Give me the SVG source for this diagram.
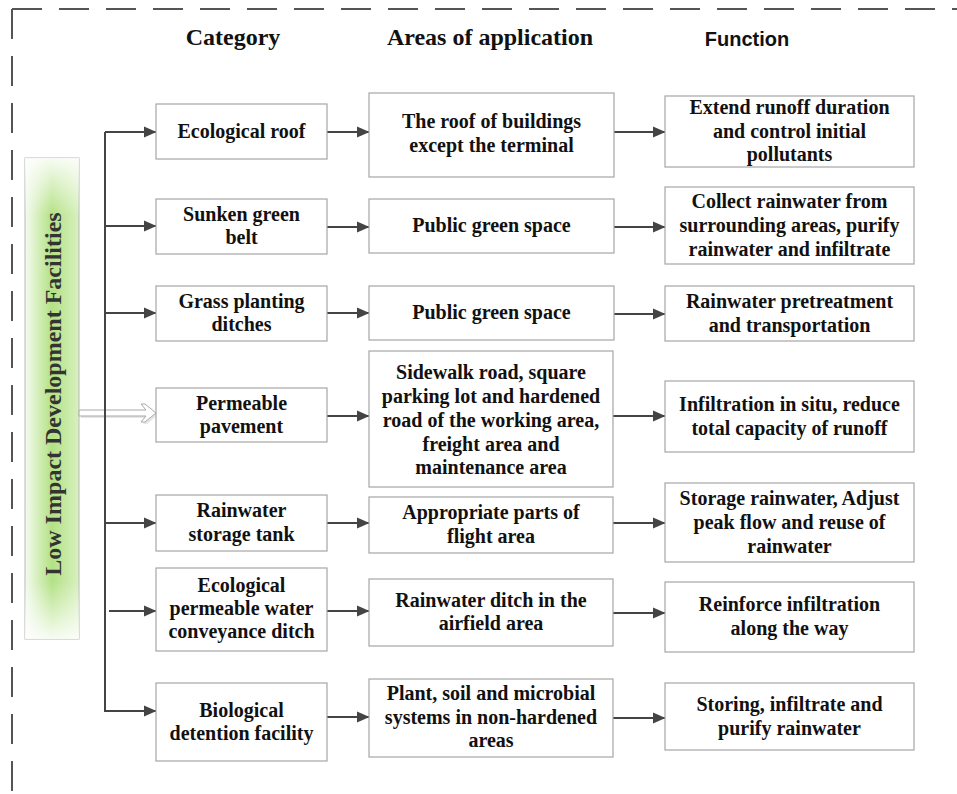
<svg xmlns="http://www.w3.org/2000/svg" width="957" height="794" viewBox="0 0 957 794">
<defs>
<style>
.box{fill:#fff;stroke:#a6a6a6;stroke-width:1.2}
.t{font-family:"Liberation Serif","Times New Roman",serif;font-weight:bold;font-size:20px;fill:#111;text-anchor:middle}
.h{font-family:"Liberation Serif","Times New Roman",serif;font-weight:bold;font-size:24px;fill:#111;text-anchor:middle}
.hs{font-family:"Liberation Sans",Arial,sans-serif;font-weight:bold;font-size:20px;fill:#111;text-anchor:middle}
.c{stroke:#444;stroke-width:2;fill:none}
.a{stroke:#444;stroke-width:2;fill:none;marker-end:url(#ah)}
.dash{stroke:#555;stroke-width:2;stroke-dasharray:30 17;fill:none}
</style>
<marker id="ah" markerUnits="userSpaceOnUse" markerWidth="13" markerHeight="12" refX="12" refY="6" orient="auto">
<path d="M0,0.5 L12.5,6 L0,11.5 z" fill="#444"/>
</marker>
<radialGradient id="g" cx="0.5" cy="0.5" r="0.5" gradientTransform="translate(0.5,0.5) scale(1,1) translate(-0.5,-0.5)">
<stop offset="0" stop-color="#a7dd6f"/>
<stop offset="0.55" stop-color="#c9eba6"/>
<stop offset="1" stop-color="#f3fbec"/>
</radialGradient>
<linearGradient id="gh" x1="0" y1="0" x2="1" y2="0">
<stop offset="0" stop-color="#f4fbef"/>
<stop offset="0.5" stop-color="#b3e184"/>
<stop offset="1" stop-color="#d8f0c0"/>
</linearGradient>
<linearGradient id="gv" x1="0" y1="0" x2="0" y2="1">
<stop offset="0" stop-color="#fff" stop-opacity="0.9"/>
<stop offset="0.12" stop-color="#fff" stop-opacity="0"/>
<stop offset="0.88" stop-color="#fff" stop-opacity="0"/>
<stop offset="1" stop-color="#fff" stop-opacity="0.9"/>
</linearGradient>
</defs>
<rect width="957" height="794" fill="#fff"/>
<g id="border">
<path class="dash" d="M12,9 L957,9"/>
<path class="dash" d="M12,9 L12,794"/>
</g>
<g id="headers">
<text class="h" x="233" y="45">Category</text>
<text class="h" x="490" y="45">Areas of application</text>
<text class="hs" x="747" y="46">Function</text>
</g>
<g id="lid">
<rect x="25" y="158" width="54" height="481" fill="url(#gh)" stroke="#b8b8b8" stroke-width="1"/>
<rect x="25" y="158" width="54" height="481" fill="url(#gv)"/>
<text class="h" x="0" y="0" transform="translate(61,394) rotate(-90)" style="fill:#333">Low Impact Development Facilities</text>
</g>
<g id="connectors">
<polygon points="81,412 148,412 143,406 147,406 158,415 147,424 143,424 148,418 81,418" fill="#e6e6e6" stroke="none"/>
<polygon points="79,410 146,410 141,404 145,404 156,413 145,422 141,422 146,416 79,416" fill="#fff" stroke="#a8a8a8" stroke-width="1"/>
<path class="c" d="M105,132 L105,711"/>
<path class="a" d="M105,132 L156,132"/>
<path class="a" d="M105,226 L156,226"/>
<path class="a" d="M105,313 L156,313"/>
<path class="a" d="M105,523 L156,523"/>
<path class="a" d="M109,611 L156,611"/>
<path class="a" d="M104,711 L156,711"/>
<path class="a" d="M327,132 L369,132"/>
<path class="a" d="M327,227 L369,227"/>
<path class="a" d="M327,313 L369,313"/>
<path class="a" d="M327,416 L369,416"/>
<path class="a" d="M327,523 L369,523"/>
<path class="a" d="M327,611 L369,611"/>
<path class="a" d="M327,717 L369,717"/>
<path class="a" d="M613,132 L665,132"/>
<path class="a" d="M613,227 L665,227"/>
<path class="a" d="M613,314 L665,314"/>
<path class="a" d="M613,416 L665,416"/>
<path class="a" d="M613,523 L665,523"/>
<path class="a" d="M613,613 L665,613"/>
<path class="a" d="M613,718 L665,718"/>
</g>
<g id="cat1"><rect class="box" x="156" y="104" width="171" height="55"/><text class="t" x="241.5" y="138">Ecological roof</text></g>
<g id="cat2"><rect class="box" x="156" y="199" width="171" height="55"/><text class="t" x="241.5" y="221">Sunken green</text><text class="t" x="241.5" y="244">belt</text></g>
<g id="cat3"><rect class="box" x="156" y="286" width="171" height="55"/><text class="t" x="241.5" y="308">Grass planting</text><text class="t" x="241.5" y="331">ditches</text></g>
<g id="cat4"><rect class="box" x="156" y="388" width="171" height="54"/><text class="t" x="241.5" y="410">Permeable</text><text class="t" x="241.5" y="433">pavement</text></g>
<g id="cat5"><rect class="box" x="156" y="495" width="171" height="56"/><text class="t" x="241.5" y="517">Rainwater</text><text class="t" x="241.5" y="541">storage tank</text></g>
<g id="cat6"><rect class="box" x="156" y="568" width="171" height="83"/><text class="t" x="241.5" y="592">Ecological</text><text class="t" x="241.5" y="615">permeable water</text><text class="t" x="241.5" y="638">conveyance ditch</text></g>
<g id="cat7"><rect class="box" x="156" y="683" width="171" height="78"/><text class="t" x="241.5" y="717">Biological</text><text class="t" x="241.5" y="740">detention facility</text></g>
<g id="area1"><rect class="box" x="369" y="93" width="245" height="84"/><text class="t" x="491.5" y="128">The roof of buildings</text><text class="t" x="491.5" y="152">except the terminal</text></g>
<g id="area2"><rect class="box" x="369" y="199" width="245" height="54"/><text class="t" x="491.5" y="232">Public green space</text></g>
<g id="area3"><rect class="box" x="369" y="286" width="245" height="54"/><text class="t" x="491.5" y="319">Public green space</text></g>
<g id="area4"><rect class="box" x="369" y="351" width="244" height="136"/><text class="t" x="491" y="379">Sidewalk road, square</text><text class="t" x="491" y="403">parking lot and hardened</text><text class="t" x="491" y="427">road of the working area,</text><text class="t" x="491" y="451">freight area and</text><text class="t" x="491" y="474">maintenance area</text></g>
<g id="area5"><rect class="box" x="369" y="497" width="244" height="56"/><text class="t" x="491" y="519">Appropriate parts of</text><text class="t" x="491" y="543">flight area</text></g>
<g id="area6"><rect class="box" x="369" y="579" width="244" height="67"/><text class="t" x="491" y="607">Rainwater ditch in the</text><text class="t" x="491" y="630">airfield area</text></g>
<g id="area7"><rect class="box" x="369" y="679" width="244" height="78"/><text class="t" x="491" y="700">Plant, soil and microbial</text><text class="t" x="491" y="724">systems in non-hardened</text><text class="t" x="491" y="747">areas</text></g>
<g id="fn1"><rect class="box" x="665" y="96" width="249" height="71"/><text class="t" x="789.5" y="114">Extend runoff duration</text><text class="t" x="789.5" y="138">and control initial</text><text class="t" x="789.5" y="161">pollutants</text></g>
<g id="fn2"><rect class="box" x="665" y="187" width="249" height="77"/><text class="t" x="789.5" y="208">Collect rainwater from</text><text class="t" x="789.5" y="232">surrounding areas, purify</text><text class="t" x="789.5" y="256">rainwater and infiltrate</text></g>
<g id="fn3"><rect class="box" x="665" y="286" width="249" height="55"/><text class="t" x="789.5" y="308">Rainwater pretreatment</text><text class="t" x="789.5" y="332">and transportation</text></g>
<g id="fn4"><rect class="box" x="665" y="381" width="249" height="71"/><text class="t" x="789.5" y="411">Infiltration in situ, reduce</text><text class="t" x="789.5" y="435">total capacity of runoff</text></g>
<g id="fn5"><rect class="box" x="665" y="483" width="249" height="79"/><text class="t" x="789.5" y="505">Storage rainwater, Adjust</text><text class="t" x="789.5" y="529">peak flow and reuse of</text><text class="t" x="789.5" y="553">rainwater</text></g>
<g id="fn6"><rect class="box" x="665" y="582" width="249" height="70"/><text class="t" x="789.5" y="611">Reinforce infiltration</text><text class="t" x="789.5" y="635">along the way</text></g>
<g id="fn7"><rect class="box" x="665" y="683" width="249" height="67"/><text class="t" x="789.5" y="711">Storing, infiltrate and</text><text class="t" x="789.5" y="735">purify rainwater</text></g>
</svg>
